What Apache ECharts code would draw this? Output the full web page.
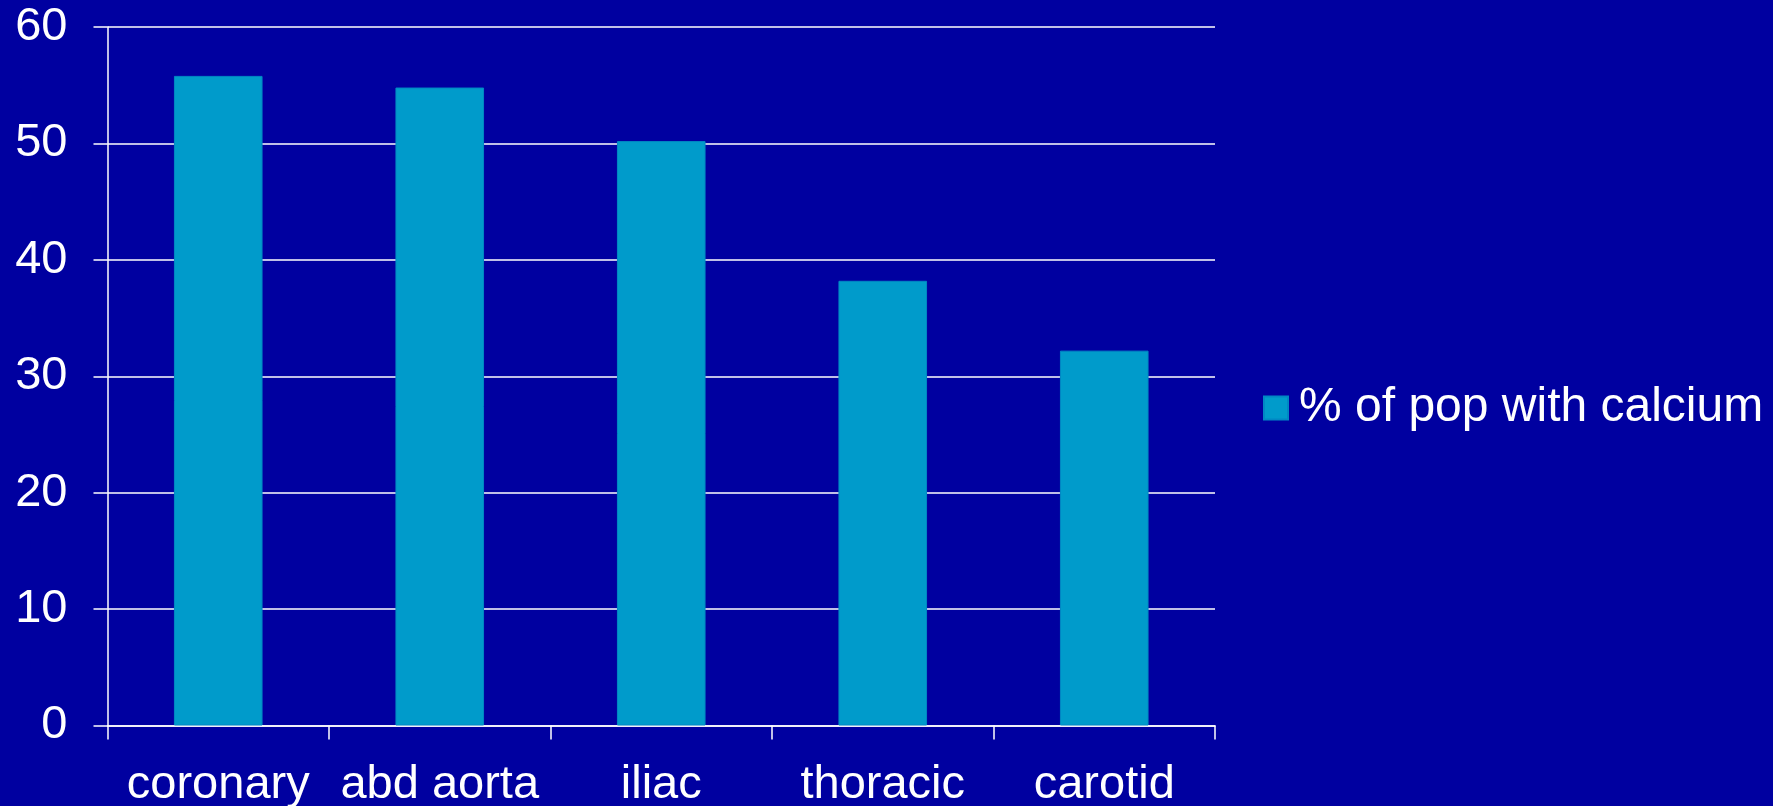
<!DOCTYPE html>
<html>
<head>
<meta charset="utf-8">
<script src="https://cdn.jsdelivr.net/npm/echarts@6/dist/echarts.min.js"></script>
<style>
  html, body { margin: 0; padding: 0; background: #0000a0; }
  #chart { width: 1773px; height: 806px; }
</style>
</head>
<body>
<div id="chart"></div>
<script>
const categories = ['coronary', 'abd aorta', 'iliac', 'thoracic', 'carotid']
const calciumPct = [55.8, 54.8, 50.2, 38.2, 32.2]
const seriesName = '% of pop with calcium'
const yTicks = { min: 0, max: 60, interval: 10 }

const myChart = echarts.init(document.getElementById('chart'))
const font = 'Liberation Sans, Arial, sans-serif'
const white = '#ffffff'

const option = {
  backgroundColor: '#0000a0',
  animation: false,
  grid: {
    left: 107.5,
    right: 558,
    top: 27,
    bottom: 80.5,
    outerBoundsMode: 'none'
  },
  legend: {
    data: [seriesName],
    icon: 'rect',
    left: 1263,
    top: 384,
    padding: 0,
    itemWidth: 24,
    itemHeight: 23,
    textStyle: {
      color: white,
      fontSize: 48,
      lineHeight: 48,
      fontFamily: font,
      padding: [0, 0, 0, 6]
    }
  },
  xAxis: {
    type: 'category',
    data: categories,
    boundaryGap: true,
    axisLine: { show: true, lineStyle: { color: white, width: 1.5 } },
    axisTick: { show: true, length: 14, lineStyle: { color: white, width: 1.5 } },
    axisLabel: {
      color: white,
      fontSize: 47,
      fontFamily: font,
      margin: 36,
      interval: 0
    }
  },
  yAxis: {
    type: 'value',
    min: yTicks.min,
    max: yTicks.max,
    interval: yTicks.interval,
    axisLine: { show: true, lineStyle: { color: white, width: 1.5 } },
    axisTick: { show: true, length: 14, lineStyle: { color: white, width: 1.5 } },
    axisLabel: {
      color: white,
      fontSize: 47,
      fontFamily: font,
      margin: 40
    },
    splitLine: { show: true, lineStyle: { color: white, width: 1.5 } }
  },
  series: [
    {
      name: seriesName,
      type: 'bar',
      data: calciumPct,
      barWidth: '40%',
      itemStyle: {
        color: '#009bcb',
        borderColor: '#0088c4',
        borderWidth: 1
      }
    }
  ]
}

myChart.setOption(option)
</script>
</body>
</html>
